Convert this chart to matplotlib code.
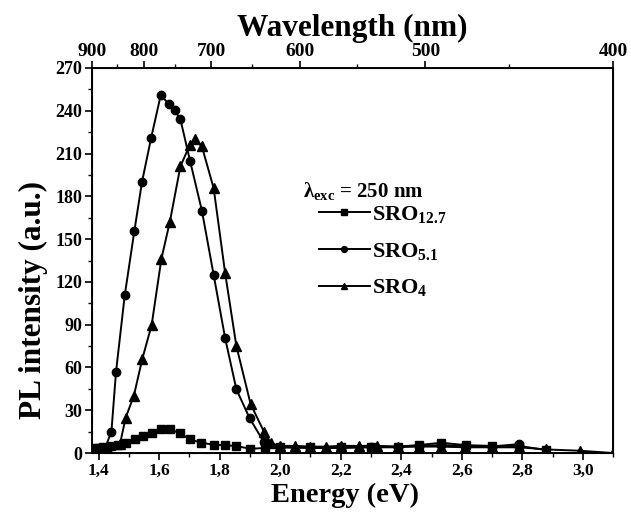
import matplotlib
matplotlib.use("Agg")
import matplotlib.pyplot as plt
from matplotlib.ticker import MultipleLocator, FuncFormatter, FixedLocator

plt.rcParams['font.family'] = ['Liberation Serif', 'DejaVu Serif']
plt.rcParams['font.weight'] = 'bold'
plt.rcParams['mathtext.fontset'] = 'custom'
plt.rcParams['mathtext.rm'] = 'Liberation Serif:bold'
plt.rcParams['mathtext.it'] = 'Liberation Serif:bold'
plt.rcParams['mathtext.bf'] = 'Liberation Serif:bold'

# SRO12.7 (squares)
e_127 = [1.388, 1.40, 1.415, 1.44, 1.464, 1.491, 1.519, 1.546, 1.576, 1.607, 1.635, 1.668, 1.701,
         1.739, 1.781, 1.818, 1.854, 1.901, 1.95, 2.00, 2.10, 2.20, 2.30, 2.39, 2.458, 2.533,
         2.613, 2.70, 2.79, 2.88]
i_127 = [3.3, 3.5, 4.4, 5.0, 5.6, 6.8, 9.6, 11.9, 14.2, 16.6, 16.6, 14.0, 9.6,
         7.2, 5.8, 5.4, 4.9, 3.0, 3.5, 4.0, 4.0, 4.0, 4.5, 4.5, 5.6, 7.2,
         5.5, 5.0, 5.0, 2.0]

# SRO5.1 (circles)
e_51 = [1.39, 1.42, 1.442, 1.457, 1.486, 1.518, 1.543, 1.573, 1.605, 1.632, 1.651, 1.670, 1.702,
        1.741, 1.780, 1.818, 1.855, 1.899, 1.945, 2.00, 2.10, 2.20, 2.30, 2.39, 2.46, 2.53,
        2.61, 2.70, 2.79]
i_51 = [2.0, 3.0, 15.0, 56.6, 110.6, 156.0, 190.0, 220.7, 251.0, 244.7, 240.5, 234.0, 204.8,
        170.0, 124.8, 80.4, 44.7, 24.3, 8.0, 4.0, 3.5, 3.5, 4.0, 4.0, 5.0, 5.5,
        5.0, 4.5, 6.3]

# SRO4 (triangles)
e_4 = [1.39, 1.43, 1.470, 1.489, 1.516, 1.544, 1.575, 1.607, 1.635, 1.670, 1.701, 1.717, 1.741,
       1.780, 1.818, 1.855, 1.902, 1.946, 1.970, 2.00, 2.05, 2.10, 2.15, 2.20, 2.26, 2.32,
       2.39, 2.46, 2.53, 2.61, 2.70, 2.79, 2.88, 2.99, 3.1]
i_4 = [1.0, 2.0, 6.0, 24.8, 40.0, 66.0, 89.8, 136.0, 162.0, 201.0, 216.0, 220.0, 215.0,
       185.6, 126.0, 75.0, 34.4, 15.0, 6.8, 5.0, 5.0, 4.5, 4.5, 5.0, 5.0, 5.0,
       4.5, 4.5, 4.5, 4.0, 4.0, 4.0, 2.5, 1.6, 0.0]

labels = ['SRO$_{12.7}$', 'SRO$_{5.1}$', 'SRO$_{4}$']
wl_major = [900, 800, 700, 600, 500, 400]
wl_minor = [850, 750, 650, 550, 450]

fig = plt.figure(figsize=(6.31, 5.12), dpi=100)
ax = fig.add_axes([0.1458, 0.1152, 0.8257, 0.752])

kw = dict(color='black', lw=1.4)
l1, = ax.plot(e_127, i_127, marker='s', ms=5.5, **kw)
l2, = ax.plot(e_51, i_51, marker='o', ms=6, **kw)
l3, = ax.plot(e_4, i_4, marker='^', ms=6.5, **kw)

ax.set_xlim(1240 / 900, 3.1)
ax.set_ylim(0, 270)
ax.xaxis.set_major_locator(MultipleLocator(0.2))
ax.xaxis.set_minor_locator(MultipleLocator(0.1))
ax.yaxis.set_major_locator(MultipleLocator(30))
ax.yaxis.set_minor_locator(MultipleLocator(15))
ax.xaxis.set_major_formatter(FuncFormatter(lambda v, p: f"{v:.1f}".replace('.', ',')))
ax.tick_params(axis='x', which='major', labelsize=12.5)
ax.tick_params(axis='y', which='major', labelsize=13)
ax.tick_params(axis='both', which='major', direction='out', length=5, width=1.2, pad=2)
ax.tick_params(axis='both', which='minor', direction='out', length=3, width=1)
ax.tick_params(right=False, which='both')
for t in ax.get_xticklabels() + ax.get_yticklabels():
    t.set_fontweight('bold')
for s in ax.spines.values():
    s.set_linewidth(1.4)

ax.set_xlabel('Energy (eV)', fontsize=20.5, fontweight='bold')
ax.xaxis.set_label_coords(0.486, -0.078)
ax.set_ylabel('PL intensity (a.u.)', fontsize=22.5, fontweight='bold')
ax.yaxis.set_label_coords(-0.085, 0.397)

# top wavelength axis
ax2 = ax.twiny()
ax2.set_xlim(ax.get_xlim())
ax2.xaxis.set_major_locator(FixedLocator([1240 / w for w in wl_major]))
ax2.xaxis.set_minor_locator(FixedLocator([1240 / w for w in wl_minor]))
ax2.set_xticklabels([str(w) for w in wl_major], fontsize=14, fontweight='bold')
ax2.tick_params(axis='x', which='major', direction='out', length=5, width=1.2, pad=1)
ax2.tick_params(axis='x', which='minor', direction='out', length=3, width=1)
ax2.set_xlabel('Wavelength (nm)', fontsize=22.5, fontweight='bold', labelpad=5)

ax.text(0.405, 0.68, 'λ$_{\\mathrm{exc}}$ = 250 nm', transform=ax.transAxes,
        fontsize=15, fontweight='bold', va='center', ha='left')

leg = ax.legend([l1, l2, l3], labels, loc='upper left', bbox_to_anchor=(0.397, 0.698),
                frameon=False, fontsize=16, handlelength=2.3, handletextpad=0.1,
                labelspacing=0.7, markerscale=0.7)
for t in leg.get_texts():
    t.set_fontweight('bold')

fig.savefig('out.png', dpi=100)
